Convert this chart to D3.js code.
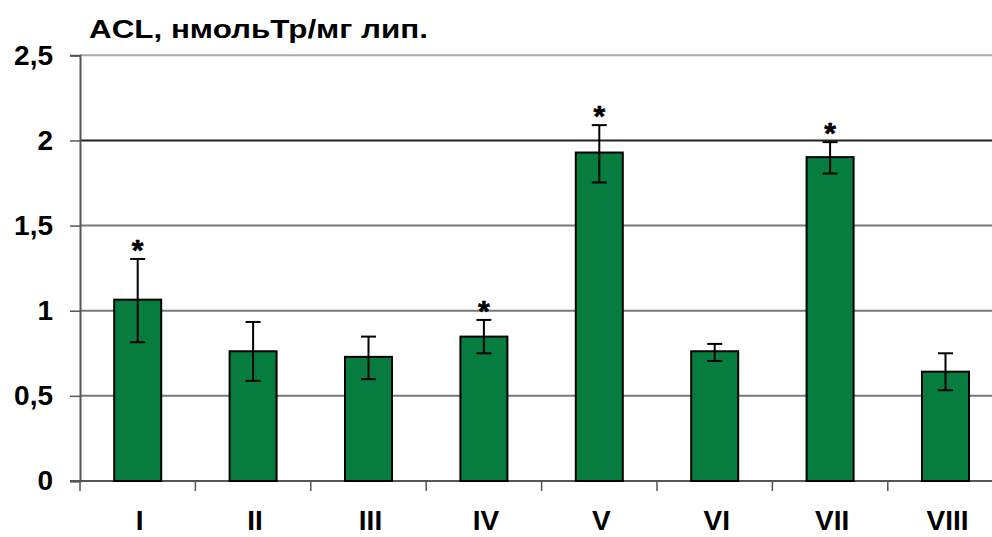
<!DOCTYPE html>
<html>
<head>
<meta charset="utf-8">
<script src="https://cdn.jsdelivr.net/npm/d3@7"></script>
<style>
  html, body { margin: 0; padding: 0; background: #fff; }
  svg { display: block; }
  text { font-family: "Liberation Sans", Arial, sans-serif; }
</style>
</head>
<body>
<svg id="chart" width="992" height="537"></svg>
<script>
const categories = ["I", "II", "III", "IV", "V", "VI", "VII", "VIII"];
const values     = [1.065, 0.762, 0.729, 0.848, 1.929, 0.762, 1.902, 0.642];
const errUpper   = [1.304, 0.934, 0.848, 0.946, 2.090, 0.805, 1.990, 0.750];
const errLower   = [0.815, 0.588, 0.598, 0.750, 1.753, 0.705, 1.806, 0.533];
const significant = [true, false, false, true, true, false, true, false];
const yTicks     = [0, 0.5, 1, 1.5, 2, 2.5];
const yTickLabels = ["0", "0,5", "1", "1,5", "2", "2,5"];
const title = "ACL, нмольТр/мг лип.";

(function () {
const svg = d3.select("#chart");
const mLeft = 80, mBottom = 481, mTop = 55.3, step = 115.4;
const mRight = mLeft + step * categories.length;

const x = d3.scaleBand().domain(categories).range([mLeft, mRight])
  .paddingInner(1 - 47 / step).paddingOuter((1 - 47 / step) / 2);
const y = d3.scaleLinear().domain([0, 2.5]).range([mBottom, mTop]);

// gridlines
const gridColor = v => v === 2 ? "#222" : (v === 2.5 ? "#aaa" : "#777");
svg.append("g").selectAll("line").data(yTicks.filter(v => v > 0)).join("line")
  .attr("x1", mLeft).attr("x2", mRight)
  .attr("y1", d => y(d)).attr("y2", d => y(d))
  .attr("stroke", d => gridColor(d)).attr("stroke-width", 2);

// y axis
const yAxis = d3.axisLeft(y).tickValues(yTicks).tickSize(10).tickPadding(17)
  .tickFormat((d, i) => yTickLabels[i]);
const gy = svg.append("g").attr("transform", `translate(${mLeft},0)`).call(yAxis);
gy.select(".domain").attr("stroke", "#555").attr("stroke-width", 2);
gy.selectAll(".tick line").attr("stroke", "#555").attr("stroke-width", 1.5);
gy.selectAll(".tick text").attr("font-size", 28).attr("font-weight", "bold")
  .attr("fill", "#000").attr("font-family", "Liberation Sans, Arial, sans-serif");

// x axis
const gx = svg.append("g").attr("transform", `translate(0,${mBottom})`);
gx.append("line").attr("x1", mLeft - 10).attr("x2", mRight).attr("y1", 0).attr("y2", 0)
  .attr("stroke", "#555").attr("stroke-width", 2);
const boundaries = d3.range(categories.length).map(i => mLeft + i * step);
gx.selectAll("line.tk").data(boundaries).join("line").attr("class", "tk")
  .attr("x1", d => d).attr("x2", d => d).attr("y1", 0).attr("y2", 10)
  .attr("stroke", "#555").attr("stroke-width", 1.5);
gx.selectAll("text").data(categories).join("text")
  .attr("x", d => x(d) + x.bandwidth() / 2 + 2).attr("y", 49)
  .attr("text-anchor", "middle").attr("font-size", 28).attr("font-weight", "bold")
  .text(d => d);

// bars
svg.append("g").selectAll("rect").data(categories).join("rect")
  .attr("x", d => x(d)).attr("width", x.bandwidth())
  .attr("y", (d, i) => y(values[i])).attr("height", (d, i) => mBottom - y(values[i]))
  .attr("fill", "#077c3f").attr("stroke", "#000").attr("stroke-width", 2);

// error bars
const eb = svg.append("g").attr("stroke", "#000").attr("stroke-width", 2);
categories.forEach((c, i) => {
  const cx = x(c) + x.bandwidth() / 2;
  eb.append("line").attr("x1", cx).attr("x2", cx).attr("y1", y(errUpper[i])).attr("y2", y(errLower[i]));
  eb.append("line").attr("x1", cx - 7.5).attr("x2", cx + 7.5).attr("y1", y(errUpper[i])).attr("y2", y(errUpper[i]));
  eb.append("line").attr("x1", cx - 7.5).attr("x2", cx + 7.5).attr("y1", y(errLower[i])).attr("y2", y(errLower[i]));
});

// significance stars
svg.append("g").selectAll("text").data(categories.filter((c, i) => significant[i])).join("text")
  .attr("x", d => x(d) + x.bandwidth() / 2)
  .attr("y", d => y(errUpper[categories.indexOf(d)]) + 1)
  .attr("text-anchor", "middle").attr("font-size", 30).attr("font-weight", "bold")
  .attr("stroke", "#000").attr("stroke-width", 0.6)
  .text("*");

// title
svg.append("text").attr("x", 89).attr("y", 38).attr("font-size", 26)
  .attr("font-weight", "bold").attr("textLength", 339).attr("lengthAdjust", "spacingAndGlyphs")
  .text(title);
})();
</script>
</body>
</html>
